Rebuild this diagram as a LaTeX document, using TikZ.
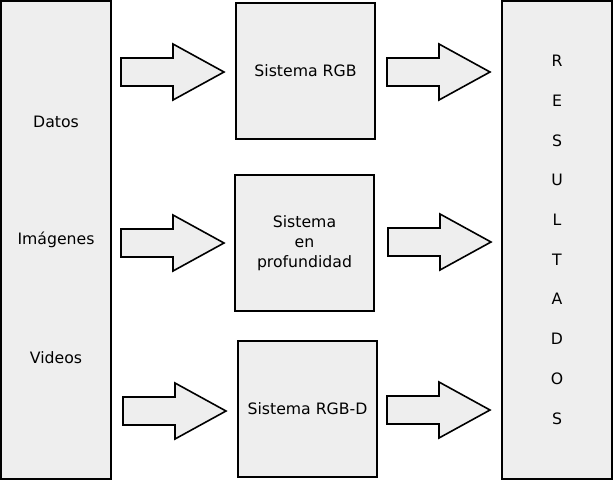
\documentclass[tikz,border=0pt]{standalone}
\usepackage{fontspec}
\setmainfont{DejaVu Sans}
\usepackage{tikz}
\definecolor{boxgray}{HTML}{EEEEEE}

\tikzset{
 panel/.style={draw=black,fill=boxgray,line width=1.6pt,inner sep=0pt},
 blockarrow/.style={draw=black,fill=boxgray,line width=1.6pt,line join=miter},
 lbl/.style={font=\fontsize{15.7}{20}\selectfont,align=center,inner sep=0pt}
}

\begin{document}
\begin{tikzpicture}[x=1pt,y=-1pt]
 \useasboundingbox (0,0) rectangle (615,483);
 % left and right columns
 \node[panel,minimum width=110pt,minimum height=478pt] (input) at (56,240) {};
 \node[panel,minimum width=110pt,minimum height=478pt] (output) at (557,240) {};
 \node[lbl] (datos) at (56,122) {Datos};
 \node[lbl] (imgs) at (56,240) {Imágenes};
 \node[lbl] (vids) at (56,358) {Videos};
 \foreach \c [count=\i] in {R,E,S,U,L,T,A,D,O,S}
  \node[lbl] (res-\i) at (557,{61+39.7*(\i-1)}) {\c};
 % systems
 \node[panel,lbl,minimum width=139pt,minimum height=136pt] (rgb) at (305.5,71) {Sistema RGB};
 \node[panel,lbl,minimum width=139pt,minimum height=136pt] (depth) at (304.5,243) {Sistema\\en\\profundidad};
 \node[panel,lbl,minimum width=139pt,minimum height=136pt] (rgbd) at (307.5,409) {Sistema RGB-D};
 % block arrows
 \foreach \x/\y in {121/72,387/72,121/243,388/242,123/411,387/410}
  \draw[blockarrow] (\x,\y-14) -- ++(52,0) -- ++(0,-14) -- ++(51,28)
   -- ++(-51,28) -- ++(0,-14) -- ++(-52,0) -- cycle;
\end{tikzpicture}
\end{document}
